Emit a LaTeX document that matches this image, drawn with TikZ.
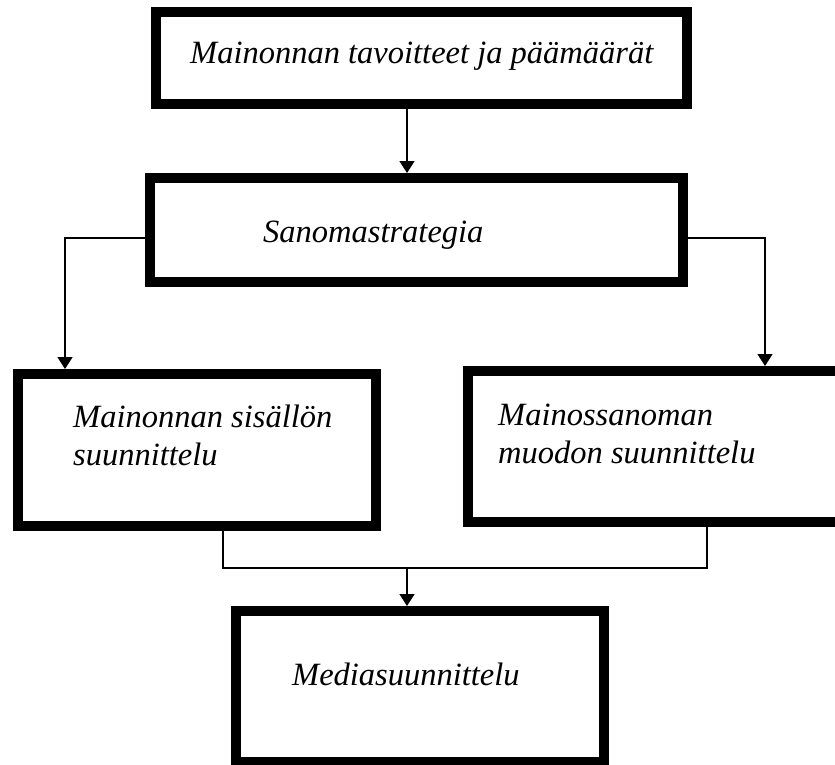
\documentclass[tikz,border=0pt]{standalone}
\usepackage{fontspec}
\setmainfont{Liberation Serif}
\usetikzlibrary{arrows.meta}

\begin{document}
\begin{tikzpicture}[x=1pt,y=-1pt,
  box/.style={draw,rectangle,line width=10pt,inner sep=0pt},
  txt/.style={anchor=base west,inner sep=0pt,align=left,font=\fontsize{32.5}{38}\selectfont\itshape},
  con/.style={line width=1.5pt},
  arr/.style={con,-{Triangle[length=12pt,width=15pt]}}]
  \useasboundingbox (0,0) rectangle (835,764);
  \node[box,minimum width=531pt,minimum height=92pt] (goal) at (421.5,58) {};
  \node[box,minimum width=533pt,minimum height=104pt] (strat) at (416.5,230) {};
  \node[box,minimum width=358pt,minimum height=152pt] (cont) at (197,450) {};
  \node[box,minimum width=372pt,minimum height=151pt] (form) at (654,446.5) {};
  \node[box,minimum width=368pt,minimum height=151pt] (media) at (420,686.5) {};
  \node[txt] (goaltxt) at (190,63) {Mainonnan tavoitteet ja päämäärät};
  \node[txt] (strattxt) at (263,242) {Sanomastrategia};
  \node[txt] (conttxt) at (73,465) {Mainonnan sisällön\\suunnittelu};
  \node[txt] (formtxt) at (498,463) {Mainossanoman\\muodon suunnittelu};
  \node[txt] (mediatxt) at (292,685) {Mediasuunnittelu};
  \coordinate (mid) at (407,0);
  \coordinate (left) at (65,238);
  \coordinate (right) at (765,238);
  \coordinate (join1) at (223,568);
  \coordinate (join2) at (707,568);
  \draw[arr] (goal.south -| mid) -- (strat.north -| mid);
  \draw[arr] (strat.west |- left) -- (left) -- (cont.north -| left);
  \draw[arr] (strat.east |- right) -- (right) -- (form.north -| right);
  \draw[con] (cont.south -| join1) -- (join1) -- (join2) -- (form.south -| join2);
  \draw[arr] (join1 -| mid) -- (media.north -| mid);
\end{tikzpicture}
\end{document}
